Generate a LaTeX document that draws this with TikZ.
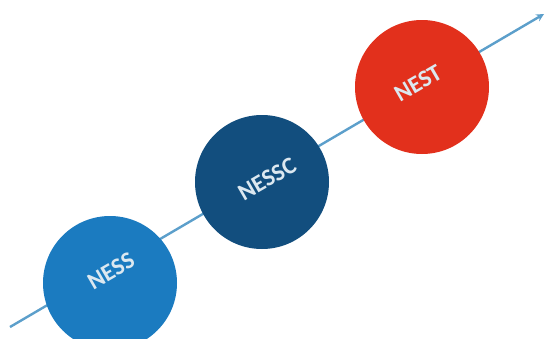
\documentclass[tikz,border=0pt]{standalone}
\usepackage{fontspec}
\setmainfont{Carlito}
\usepackage{tikz}
\usetikzlibrary{arrows}
\definecolor{nessblue}{HTML}{1B7BC0}
\definecolor{nesscblue}{HTML}{124E7E}
\definecolor{nestred}{HTML}{E2301C}
\definecolor{linkblue}{HTML}{5C9FCB}
\definecolor{labelgrey}{HTML}{DCE8F0}
\tikzstyle{stage} = [circle, minimum size=134pt, inner sep=0pt]
\tikzstyle{stagetext} = [text=labelgrey, font=\fontsize{24}{24}\selectfont\bfseries, rotate=30, inner sep=0pt]
\tikzstyle{arrow} = [line width=2.4pt, linkblue, ->, >=stealth]

\begin{document}
\begin{tikzpicture}[x=1pt, y=-1pt]
\useasboundingbox (0,0) rectangle (547,338);
\coordinate (tail) at (10,327);
\coordinate (head) at (544,14);
\draw [arrow] (tail) -- (head);

\node (ness) [stage, fill=nessblue] at (110,283) {};
\node (nessc) [stage, fill=nesscblue] at (262,182) {};
\node (nest) [stage, fill=nestred] at (422,87) {};

\node (nesstext) [stagetext] at (111,271) {NESS};
\node (nessctext) [stagetext] at (267,179) {NESSC};
\node (nesttext) [stagetext] at (418,83) {NEST};

\end{tikzpicture}
\end{document}
